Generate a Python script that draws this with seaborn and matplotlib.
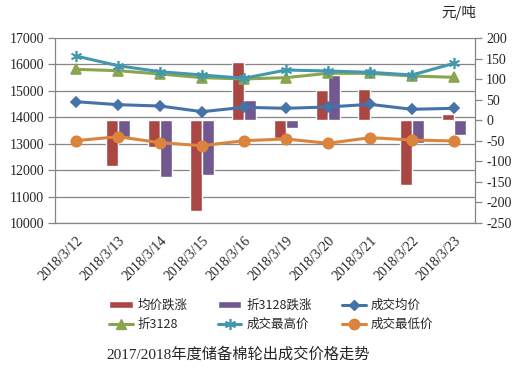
import matplotlib
matplotlib.use("Agg")
import matplotlib.pyplot as plt
import seaborn as sns
import pandas as pd
import numpy as np
from matplotlib.lines import Line2D
from matplotlib.patches import Patch

dates = ['2018/3/12', '2018/3/13', '2018/3/14', '2018/3/15', '2018/3/16',
         '2018/3/19', '2018/3/20', '2018/3/21', '2018/3/22', '2018/3/23']
avg_change = [np.nan, -112, -64, -222, 141, -43, 74, 77, -158, 16]
z3128_change = [np.nan, -40, -139, -134, 50, -19, 111, -3, -55, -35]
avg_price = [14590, 14477, 14427, 14212, 14378, 14340, 14390, 14490, 14302, 14340]
z3128 = [15815, 15763, 15638, 15500, 15450, 15500, 15665, 15660, 15562, 15513]
high_price = [16319, 15952, 15725, 15600, 15475, 15789, 15751, 15702, 15600, 16043]
low_price = [13114, 13266, 13039, 12925, 13114, 13179, 13016, 13228, 13141, 13103]

left_ticks = [10000, 11000, 12000, 13000, 14000, 15000, 16000, 17000]
right_ticks = [-250, -200, -150, -100, -50, 0, 50, 100, 150, 200]

sns.set_theme(style="white")
plt.rcParams['font.family'] = ['Liberation Serif', 'Noto Sans CJK SC', 'DejaVu Sans']
plt.rcParams['axes.unicode_minus'] = False

C_RED = '#AA4643'
C_PURPLE = '#71588F'
C_BLUE = '#4572A7'
C_GREEN = '#89A54E'
C_CYAN = '#4198AF'
C_ORANGE = '#DB843D'
GRID = '#868686'

fig = plt.figure(figsize=(5.15, 3.70), dpi=100)
axG = fig.add_axes([55/515, 1-223/370, 420/515, 185/370])
axR = axG.twinx()
axL = axG.twinx()
axG.set_zorder(1)
axR.set_zorder(2)
axL.set_zorder(3)
axR.patch.set_visible(False)
axL.patch.set_visible(False)

# bars (right axis)
bars_df = pd.DataFrame({
    'date': dates * 2,
    'series': ['均价跌涨'] * len(dates) + ['折3128跌涨'] * len(dates),
    'value': avg_change + z3128_change,
})
sns.barplot(data=bars_df, x='date', y='value', hue='series', order=dates,
            palette=[C_RED, C_PURPLE], width=0.57, gap=0, ax=axR,
            legend=False, errorbar=None, saturation=1)

# lines (left axis scale)
line_specs = [
    (avg_price, C_BLUE, 'D', 5.5),
    (z3128, C_GREEN, '^', 6.5),
    (high_price, C_CYAN, (6, 2, 0), 8),
    (low_price, C_ORANGE, 'o', 7.5),
]
for vals, col, mk, ms in line_specs:
    sns.pointplot(x=dates, y=vals, order=dates, color=col, markers=mk,
                  linestyles='-', errorbar=None, ax=axL,
                  markersize=ms, linewidth=2.2, markeredgewidth=1.2)

for a in (axG, axR, axL):
    a.set_xlim(-0.5, len(dates) - 0.5)
    a.set_xlabel('')
    a.set_ylabel('')

axG.set_ylim(10000, 17000)
axL.set_ylim(10000, 17000)
axR.set_ylim(-250, 200)

axG.set_yticks(left_ticks)
axG.set_yticklabels([str(t) for t in left_ticks], fontsize=10)
axG.yaxis.grid(True, color=GRID, linewidth=0.9)
axG.xaxis.grid(False)
axL.set_yticks([])
axL.tick_params(axis='both', length=0, labelbottom=False, labelleft=False, labelright=False)
axR.set_yticks(right_ticks)
axR.set_yticklabels([str(t) for t in right_ticks], fontsize=10)
axR.tick_params(axis='x', length=0, labelbottom=False)

axG.set_xticks(range(len(dates)))
axG.set_xticklabels(dates, rotation=45, ha='right', rotation_mode='anchor', fontsize=10)
axG.set_xticks(np.arange(-0.5, len(dates)), minor=True)
axG.tick_params(axis='x', which='major', length=0, pad=8)
axG.tick_params(axis='x', which='minor', length=5, color=GRID, direction='out', width=0.9)
axG.tick_params(axis='y', length=5, color=GRID, direction='out', width=0.9, pad=3, left=True)
axR.tick_params(axis='y', length=5, color=GRID, direction='out', width=0.9, pad=3, right=True)

for a in (axG, axR, axL):
    for s in a.spines.values():
        s.set_visible(False)
axG.spines['left'].set_visible(True)
axG.spines['bottom'].set_visible(True)
axR.spines['right'].set_visible(True)
for s in (axG.spines['left'], axG.spines['bottom'], axR.spines['right']):
    s.set_color(GRID)
    s.set_linewidth(0.9)

handles = [
    Patch(facecolor=C_RED, label='均价跌涨'),
    Line2D([], [], color=C_GREEN, marker='^', markersize=7, linewidth=2.2, label='折3128'),
    Patch(facecolor=C_PURPLE, label='折3128跌涨'),
    Line2D([], [], color=C_CYAN, marker=(6, 2, 0), markersize=8, markeredgewidth=1.2, linewidth=2.2, label='成交最高价'),
    Line2D([], [], color=C_BLUE, marker='D', markersize=5.5, linewidth=2.2, label='成交均价'),
    Line2D([], [], color=C_ORANGE, marker='o', markersize=7.5, linewidth=2.2, label='成交最低价'),
]
fig.legend(handles=handles, ncol=3, loc='center', bbox_to_anchor=(271/515, 1-315/370),
           frameon=False, prop={'family': ['Noto Sans CJK SC', 'DejaVu Sans'], 'size': 9},
           handlelength=1.9, handleheight=0.6, handletextpad=0.4, columnspacing=2.4,
           labelspacing=0.5)

fig.text(238/515, 1-354/370, '2017/2018年度储备棉轮出成交价格走势', ha='center', va='center',
         fontsize=11, family=['Liberation Serif', 'Noto Sans CJK SC'])
fig.text(459/515, 1-13/370, '元/吨', ha='center', va='center', fontsize=10.5,
         family=['Noto Sans CJK SC', 'DejaVu Sans'])

fig.savefig('out.png', dpi=100)
